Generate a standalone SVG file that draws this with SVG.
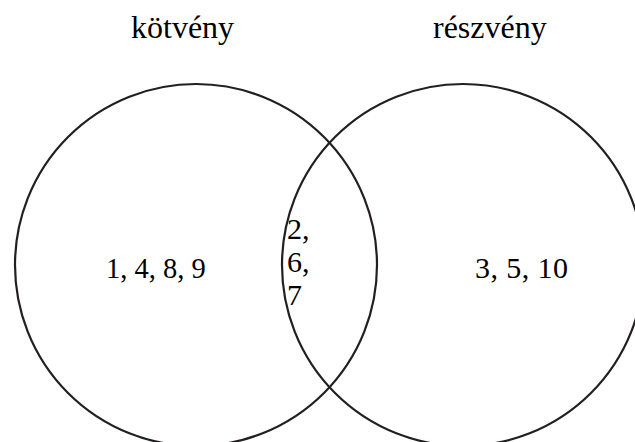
<svg xmlns="http://www.w3.org/2000/svg" width="635" height="442" viewBox="0 0 635 442">
<style>
.c{fill:none;stroke:#231f20;stroke-width:2.2}
.t{font-family:"Liberation Serif","Times New Roman",serif;font-size:30px;fill:#000}
.h{font-size:32px}
</style>
<rect width="635" height="442" fill="#fff"/>
<g id="kotveny">
<circle class="c" cx="196" cy="265" r="181"/>
<text class="t h" x="131" y="38">kötvény</text>
<text class="t" x="106" y="278" style="font-size:28.5px">1, 4, 8, 9</text>
</g>
<g id="reszveny">
<circle class="c" cx="463" cy="265" r="181"/>
<text class="t h" x="433" y="38">részvény</text>
<text class="t" x="475" y="278" textLength="93" lengthAdjust="spacing">3, 5, 10</text>
</g>
<g id="metszet">
<text class="t" x="287" y="239">2,</text>
<text class="t" x="287" y="272">6,</text>
<text class="t" x="287" y="305">7</text>
</g>
<g id="connectors"></g>
</svg>
